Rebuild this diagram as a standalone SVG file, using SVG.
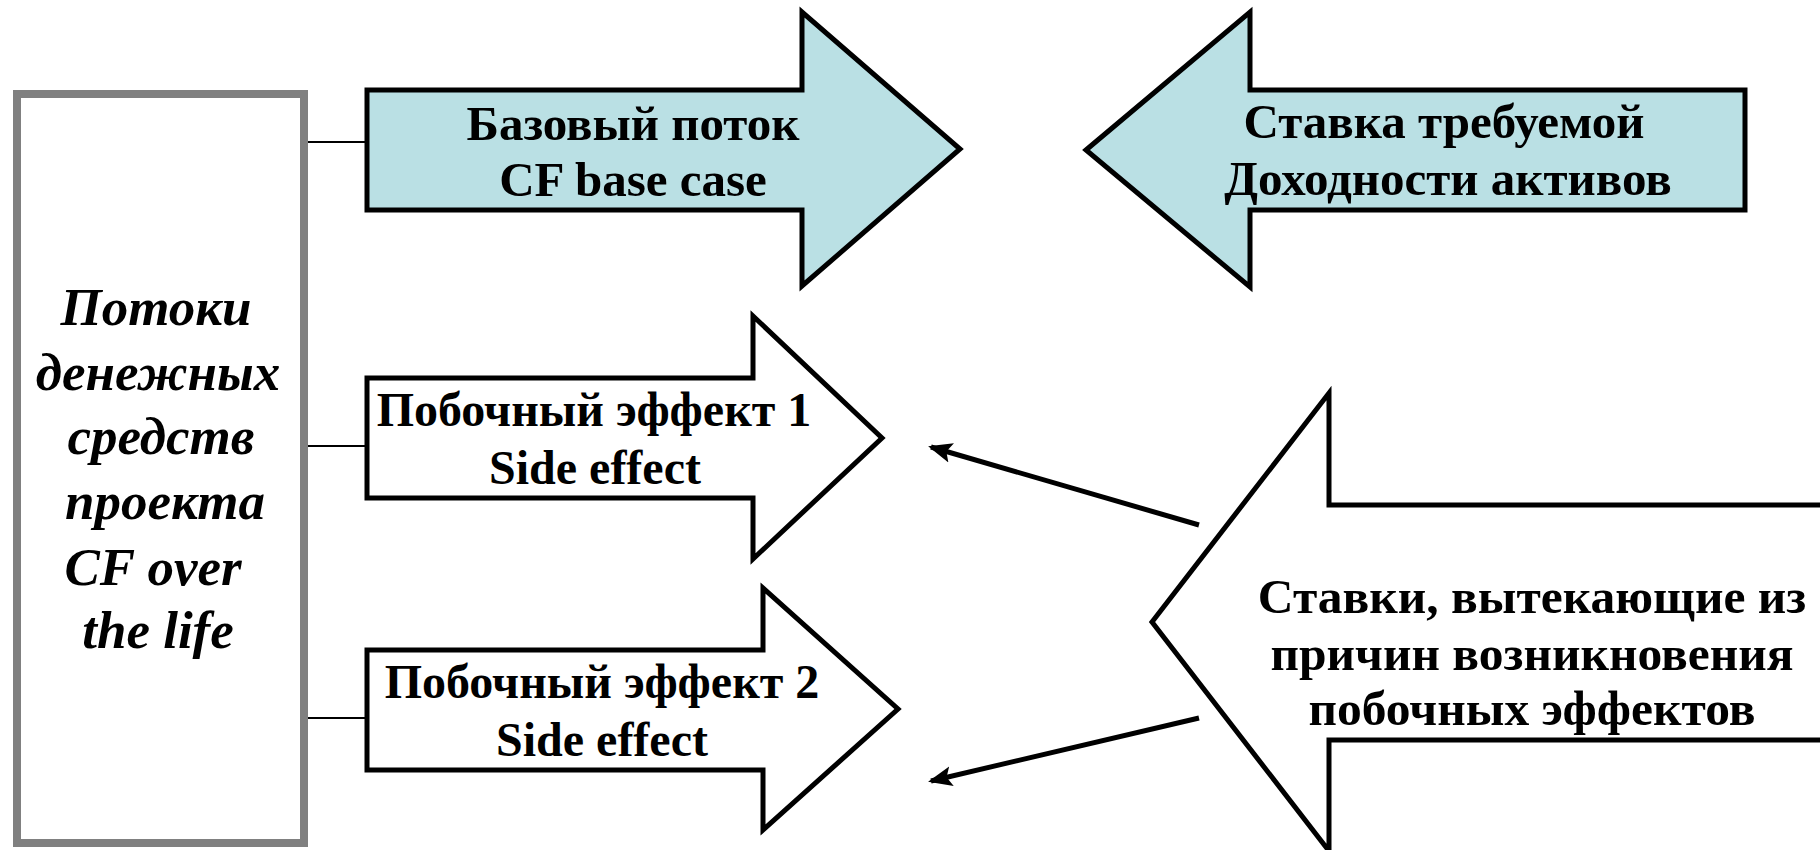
<svg xmlns="http://www.w3.org/2000/svg" width="1820" height="850" viewBox="0 0 1820 850">
<style>
.arr{stroke:#000;stroke-width:5;stroke-linejoin:miter}
.blue{fill:#bae0e4}
.white{fill:#fff}
.t{font-family:"Liberation Serif","Times New Roman",serif;font-weight:bold;font-size:49px;fill:#000;text-anchor:middle}
.s{font-size:48px}
.r{font-size:49.5px}
.ti{font-style:italic;font-size:53px}
.link{stroke:#000;stroke-width:2}
.conn{stroke:#000;stroke-width:5;fill:none}
</style>
<defs>
<marker id="ah" markerUnits="userSpaceOnUse" markerWidth="26" markerHeight="26" refX="21" refY="10" orient="auto" viewBox="0 0 26 20">
<path d="M0,0 L24,10 L0,20 L5,10 Z" fill="#000"/>
</marker>
</defs>
<rect width="1820" height="850" fill="#fff"/>
<g id="cf-box">
<rect x="17" y="94" width="287" height="749" fill="#fff" stroke="#808080" stroke-width="8"/>
<text class="t ti" x="156" y="325">Потоки</text>
<text class="t ti" x="158" y="390">денежных</text>
<text class="t ti" x="161" y="454">средств</text>
<text class="t ti" x="165" y="519">проекта</text>
<text class="t ti" x="153" y="585">CF over</text>
<text class="t ti" x="158" y="648">the life</text>
</g>
<g id="links">
<line class="link" x1="308" y1="142" x2="367" y2="142"/>
<line class="link" x1="308" y1="446" x2="367" y2="446"/>
<line class="link" x1="308" y1="718" x2="367" y2="718"/>
</g>
<g id="base-flow">
<polygon class="arr blue" points="367,90 802,90 802,12 960,149 802,286 802,210 367,210"/>
<text class="t" x="633" y="140">Базовый поток</text>
<text class="t" x="633" y="196">CF base case</text>
</g>
<g id="required-rate">
<polygon class="arr blue" points="1086,150 1250,12 1250,90 1745,90 1745,210 1250,210 1250,287"/>
<text class="t" x="1444" y="138">Ставка требуемой</text>
<text class="t" x="1448" y="195">Доходности активов</text>
</g>
<g id="side-effect-1">
<polygon class="arr white" points="367,378 753,378 753,316 882,438 753,559 753,498 367,498"/>
<text class="t s" x="594" y="426">Побочный эффект 1</text>
<text class="t s" x="595" y="484">Side effect</text>
</g>
<g id="side-effect-2">
<polygon class="arr white" points="367,650 763,650 763,588 898,709 763,830 763,770 367,770"/>
<text class="t s" x="602" y="698">Побочный эффект 2</text>
<text class="t s" x="602" y="756">Side effect</text>
</g>
<g id="side-rates">
<polygon class="arr white" points="1152,622 1329,393 1329,505 1830,505 1830,740 1329,740 1329,851"/>
<text class="t r" x="1532" y="613">Ставки, вытекающие из</text>
<text class="t r" x="1532" y="670">причин возникновения</text>
<text class="t r" x="1532" y="725">побочных эффектов</text>
</g>
<g id="connectors">
<line class="conn" x1="1199" y1="525" x2="931" y2="447" marker-end="url(#ah)"/>
<line class="conn" x1="1199" y1="718" x2="931" y2="781" marker-end="url(#ah)"/>
</g>
</svg>
